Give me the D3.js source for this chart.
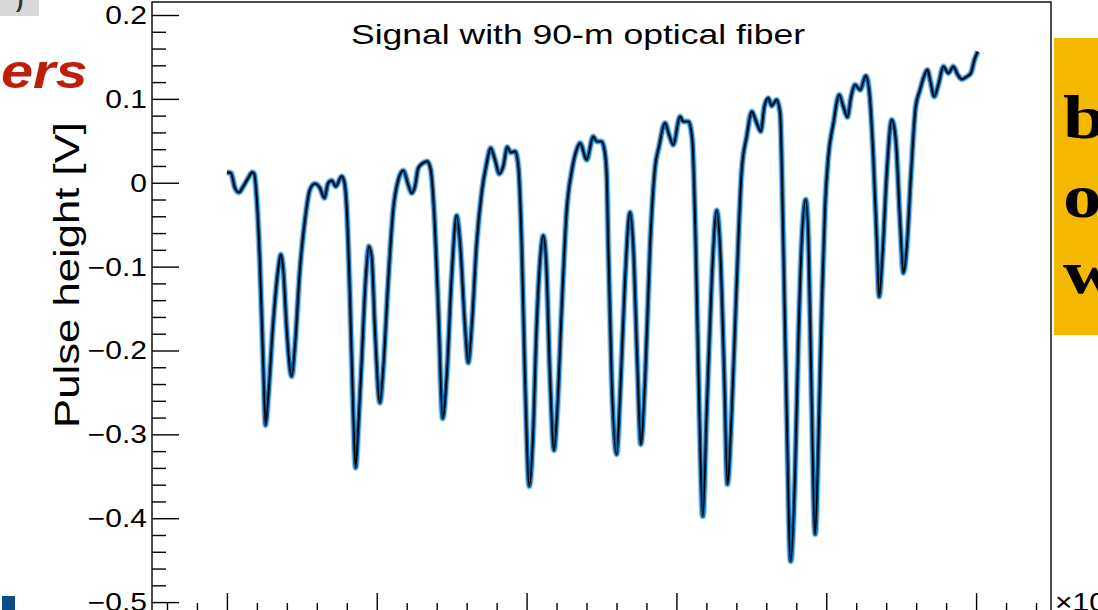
<!DOCTYPE html>
<html>
<head>
<meta charset="utf-8">
<script src="https://cdn.jsdelivr.net/npm/d3@7"></script>
<style>
  html, body { margin: 0; padding: 0; background: #ffffff; overflow: hidden; }
  svg { display: block; }
</style>
</head>
<body>
<svg id="chart" width="1098" height="610"></svg>
<script>
// ---------------- data ----------------
const chartTitle = "Signal with 90-m optical fiber";
const yAxisTitle = "Pulse height [V]";
const xExponentLabel = "×10";
const xExponentSup = "3";

// time (ns) of each sample
const timeNs = [0,27,53,80,109,142,169,182,198,220,242,258,276,309,342,360,376,399,432,454,487,521,554,587,621,650,676,699,726,766,783,799,821,843,859,876,899,926,948,966,988,1021,1043,1077,1110,1144,1177,1210,1233,1255,1277,1310,1337,1360,1382,1411,1440,1467,1500,1533,1556,1589,1611,1634,1667,1700,1734,1760,1789,1818,1844,1871,1894,1923,1945,1967,1989,2018,2041,2067,2094,2111,2130,2156,2183,2205,2234,2268,2301,2334,2357,2401,2445,2468,2501,2523,2535,2545,2568,2601,2624,2657,2690,2712,2739,2762,2791,2824,2857,2884,2924,2951,2979,3024,3046,3080,3106,3129,3153,3176,3202,3236,3269,3291,3320,3340,3369,3403,3436,3469,3503,3536,3563,3587,3613,3636,3669,3692,3714,3736,3762,3792,3814,3837,3863,3881,3899,3926,3948,3970,3992,4014,4048,4086,4114,4141,4166,4192,4226,4264,4286,4314,4337,4353,4375,4404,4437,4464,4493,4515,4538,4566,4597,4626,4648,4675,4693,4720,4748,4782,4815,4848,4878,4905,4938,4965,4989,5011];
// pulse height (V) of each sample
const pulseV = [0.0123,0.0115,-0.006,-0.0115,-0.0044,0.0056,0.0123,0.0107,-0.0163,-0.0952,-0.2143,-0.289,-0.2544,-0.1667,-0.1036,-0.0857,-0.1036,-0.175,-0.231,-0.1949,-0.1036,-0.044,-0.0083,-0.0012,-0.0063,-0.0182,-0.0004,0.0027,-0.0044,0.0075,0.0015,-0.0282,-0.1354,-0.2738,-0.3396,-0.294,-0.2143,-0.1155,-0.0758,-0.0877,-0.175,-0.2623,-0.2226,-0.1155,-0.0321,0.0036,0.0146,-0.0024,-0.0123,-0.0044,0.0175,0.0235,0.0254,0.0155,-0.0321,-0.1512,-0.281,-0.2306,-0.1115,-0.0393,-0.0718,-0.1711,-0.2146,-0.1711,-0.0718,-0.0123,0.0235,0.0413,0.0274,0.0107,0.0194,0.0425,0.0361,0.0373,0.0194,-0.0718,-0.2306,-0.3619,-0.3099,-0.1711,-0.0837,-0.0631,-0.0917,-0.2306,-0.319,-0.2702,-0.1512,-0.0321,0.0135,0.0393,0.0473,0.0274,0.0551,0.0492,0.0492,0.0354,0.0075,-0.0758,-0.2345,-0.3238,-0.2544,-0.1155,-0.0354,-0.0758,-0.2146,-0.3119,-0.2345,-0.0758,0.0175,0.0432,0.0711,0.0571,0.0452,0.0789,0.073,0.073,0.0512,-0.0758,-0.2742,-0.3976,-0.2742,-0.1155,-0.033,-0.0758,-0.2345,-0.3595,-0.2742,-0.1155,0.0155,0.0551,0.0849,0.0711,0.0611,0.0908,0.1008,0.0917,0.0988,0.083,-0.0758,-0.2742,-0.4512,-0.3456,-0.1869,-0.0679,-0.0202,-0.0679,-0.2265,-0.419,-0.306,-0.1473,-0.0282,0.0313,0.0711,0.1048,0.0908,0.0782,0.1027,0.1167,0.1107,0.1274,0.1107,0.0313,-0.0679,-0.1357,-0.0877,0.0115,0.075,0.0512,-0.048,-0.1075,-0.0758,0.0115,0.0908,0.1107,0.1246,0.1345,0.1226,0.1027,0.1167,0.1385,0.1306,0.1385,0.1286,0.1235,0.1265,0.1306,0.1464,0.1563];

const xMajorTicks = [0, 1000, 2000, 3000, 4000, 5000];
const xMinorTicks = [-400,-200,200,400,600,800,1200,1400,1600,1800,2200,2400,2600,2800,3200,3400,3600,3800,4200,4400,4600,4800,5200,5400];
const yMajorTicks = [-0.5, -0.4, -0.3, -0.2, -0.1, 0, 0.1, 0.2];
const yMinorTicks = d3.range(-25, 11).map(i => +(i * 0.02).toFixed(2)).filter(v => !yMajorTicks.some(m => Math.abs(m - v) < 1e-9));

const xDomain = [-500, 5500];
const yDomain = [-0.513, 0.2155];

// ---------------- layout ----------------
const frame = { left: 152, right: 1051, top: 2, bottom: 613 };
const svg = d3.select("#chart");

const x = d3.scaleLinear().domain(xDomain).range([frame.left, frame.right]);
const y = d3.scaleLinear().domain(yDomain).range([frame.bottom, frame.top]);

// ---------------- slide decorations around the plot ----------------
svg.append("rect").attr("x", 0).attr("y", 0).attr("width", 39).attr("height", 16).attr("fill", "#d8d8d8");
svg.append("text").attr("x", 16).attr("y", 7).attr("font-family", "Liberation Sans, Arial, sans-serif")
  .attr("font-size", 22).attr("font-weight", "bold").attr("fill", "#333").text(")");

svg.append("text")
  .attr("transform", "translate(1,88) scale(1.2,1)")
  .attr("font-family", "Liberation Sans, Arial, sans-serif")
  .attr("font-size", 48).attr("font-weight", "bold").attr("font-style", "italic")
  .attr("fill", "#bf1e0b").text("ers");

svg.append("rect").attr("x", 2).attr("y", 596).attr("width", 13).attr("height", 14).attr("fill", "#0b4c86");

svg.append("rect").attr("x", 1054).attr("y", 38).attr("width", 60).attr("height", 297).attr("fill", "#f5b800");
const sideLetters = ["b", "o", "w"];
const sideBase = [138, 217, 293];
sideLetters.forEach((ch, i) => {
  svg.append("text")
    .attr("transform", `translate(1063,${sideBase[i]}) scale(1.25,1)`)
    .attr("font-family", "Liberation Serif, Times New Roman, serif")
    .attr("font-size", 62).attr("font-weight", "bold")
    .attr("fill", "#000").text(ch);
});

// ---------------- frame ----------------
svg.append("rect")
  .attr("x", frame.left).attr("y", frame.top)
  .attr("width", frame.right - frame.left).attr("height", frame.bottom - frame.top)
  .attr("fill", "none").attr("stroke", "#000").attr("stroke-width", 1.4);

// ---------------- axes (ROOT style: inward ticks) ----------------
const yAxisMajor = d3.axisRight(y).tickValues(yMajorTicks).tickSize(27).tickFormat("");
const yAxisMinor = d3.axisRight(y).tickValues(yMinorTicks).tickSize(14).tickFormat("");
[yAxisMajor, yAxisMinor].forEach(ax => {
  const g = svg.append("g").attr("transform", `translate(${frame.left},0)`).call(ax);
  g.select(".domain").remove();
  g.selectAll("line").attr("stroke", "#000").attr("stroke-width", 1.4);
});

const xAxisMajor = d3.axisTop(x).tickValues(xMajorTicks).tickSize(20).tickFormat("");
const xAxisMinor = d3.axisTop(x).tickValues(xMinorTicks).tickSize(10).tickFormat("");
[xAxisMajor, xAxisMinor].forEach(ax => {
  const g = svg.append("g").attr("transform", `translate(0,${frame.bottom})`).call(ax);
  g.select(".domain").remove();
  g.selectAll("line").attr("stroke", "#000").attr("stroke-width", 1.4);
});

// y tick labels
const fmt = d => d === 0 ? "0" : d3.format(".1f")(d);
yMajorTicks.forEach(v => {
  svg.append("text")
    .attr("transform", `translate(147,${y(v)}) scale(1.2,1)`)
    .attr("text-anchor", "end").attr("dy", "0.36em")
    .attr("font-family", "Liberation Sans, Arial, sans-serif")
    .attr("font-size", 25).attr("fill", "#000")
    .text(fmt(v));
});

// x exponent label (cut by the slide edge)
const xe = svg.append("text")
  .attr("transform", `translate(1055,611) scale(1.2,1)`)
  .attr("font-family", "Liberation Sans, Arial, sans-serif")
  .attr("font-size", 25).attr("fill", "#000");
xe.append("tspan").text(xExponentLabel);
xe.append("tspan").attr("dy", -10).attr("font-size", 17).text(xExponentSup);

// y axis title
svg.append("text")
  .attr("transform", `translate(79,275) rotate(-90) scale(1,1.15)`)
  .attr("text-anchor", "middle")
  .attr("font-family", "Liberation Sans, Arial, sans-serif")
  .attr("font-size", 30).attr("fill", "#000")
  .attr("textLength", 306).attr("lengthAdjust", "spacingAndGlyphs")
  .text(yAxisTitle);

// title
svg.append("text")
  .attr("x", 578).attr("y", 44)
  .attr("text-anchor", "middle")
  .attr("font-family", "Liberation Sans, Arial, sans-serif")
  .attr("font-size", 28).attr("fill", "#000")
  .attr("textLength", 454).attr("lengthAdjust", "spacingAndGlyphs")
  .text(chartTitle);

// ---------------- waveform ----------------
const pts = timeNs.map((t, i) => [t, pulseV[i]]);
const line = d3.line().x(d => x(d[0])).y(d => y(d[1])).curve(d3.curveMonotoneX);
const plot = svg.append("g");
plot.append("path").attr("d", line(pts)).attr("fill", "none")
  .attr("stroke", "#9ccbeb").attr("stroke-width", 6.5).attr("stroke-linejoin", "round");
plot.append("path").attr("d", line(pts)).attr("fill", "none")
  .attr("stroke", "#0a6cb3").attr("stroke-width", 4.2).attr("stroke-linejoin", "round");
plot.append("path").attr("d", line(pts)).attr("fill", "none")
  .attr("stroke", "#000").attr("stroke-width", 1.7).attr("stroke-linejoin", "round");
</script>
</body>
</html>
